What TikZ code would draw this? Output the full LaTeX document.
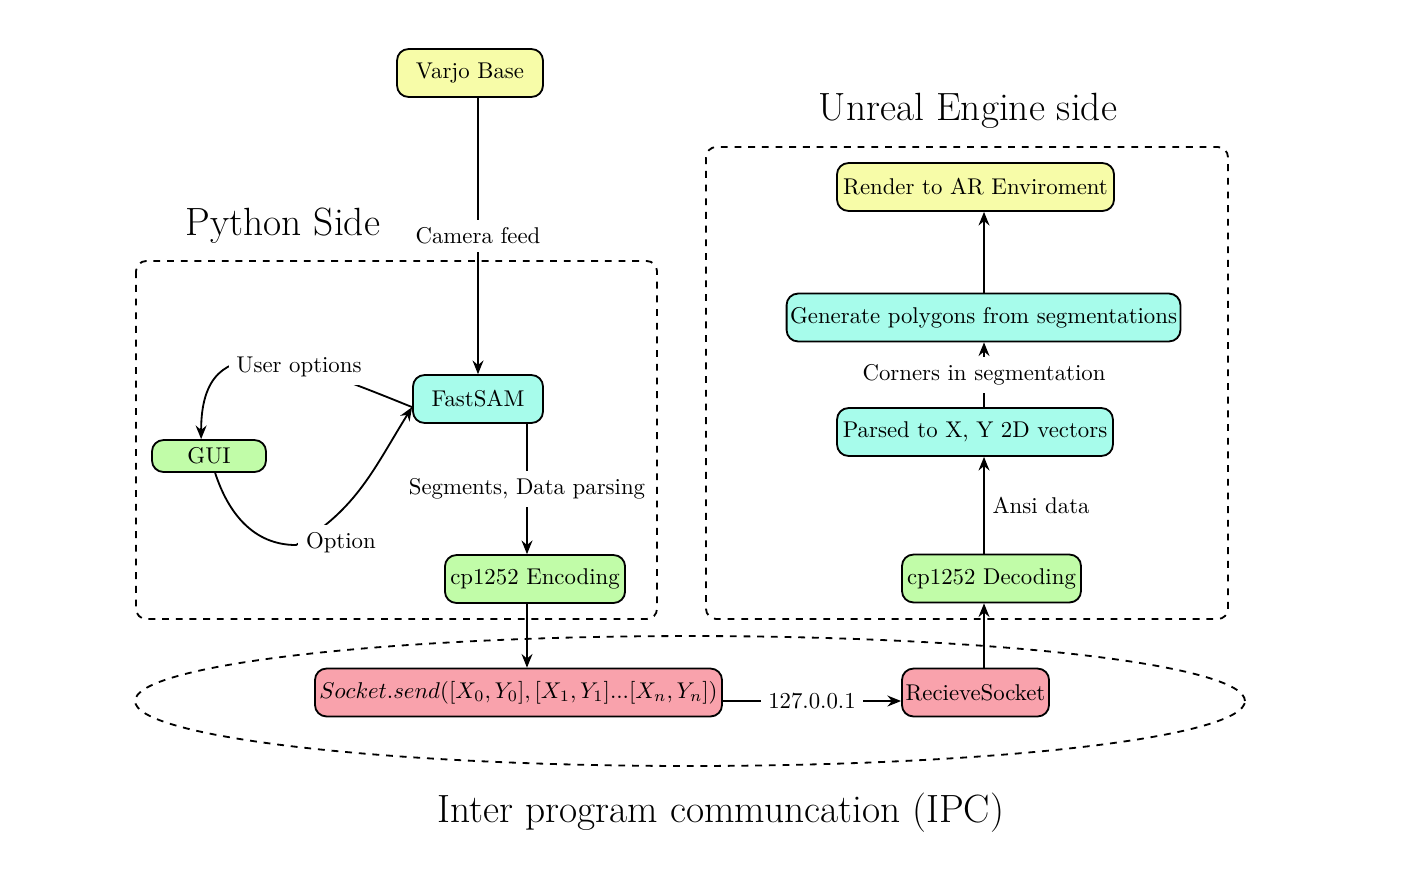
\documentclass[tikz,border=0pt]{standalone}
\usetikzlibrary{arrows.meta,calc}
\definecolor{cyel}{RGB}{247,252,168}
\definecolor{ccyan}{RGB}{167,252,235}
\definecolor{cgreen}{RGB}{193,252,168}
\definecolor{cred}{RGB}{249,162,172}
\begin{document}
\begin{tikzpicture}[x=0.4386pt,y=-0.4386pt,
  >={Stealth[length=6pt,width=4.8pt,inset=2pt]},
  box/.style={draw, thick, rounded corners=5pt, minimum height=21pt, inner xsep=1.5pt, inner ysep=2pt},
  lbl/.style={fill=white},
  conn/.style={thick},
  grp/.style={draw, thick, dashed, rounded corners=4.5pt},
  ttl/.style={font=\LARGE}]
\useasboundingbox (0,0) rectangle (1404,886);

% groups
\draw[grp] (136,261) rectangle (657,619);
\draw[grp] (706,147) rectangle (1228,619);
\draw[dashed, thick] (690,701) ellipse [x radius=243.4pt, y radius=28.5pt];

\node[ttl] (tpy) at (283,226) {Python Side};
\node[ttl] (tue) at (968,111) {Unreal Engine side};
\node[ttl] (tipc) at (721,813) {Inter program communcation (IPC)};

% nodes
\node[box, fill=cyel, minimum width=64pt] (varjo) at (470,73) {Varjo Base};
\node[box, fill=ccyan, minimum width=57pt] (fast) at (478,399) {FastSAM};
\node[box, fill=cgreen, minimum width=50pt, minimum height=14pt] (gui) at (209,456) {GUI};
\node[box, fill=cgreen, minimum width=79pt] (enc) at (535,579) {cp1252 Encoding};
\node[box, fill=cred, minimum width=178.5pt] (sock) at (518.5,692.5) {$Socket.send([X_0,Y_0],[X_1,Y_1]...[X_n,Y_n])$};
\node[box, fill=cred, minimum width=64.5pt] (recv) at (975.5,692.5) {RecieveSocket};
\node[box, fill=cgreen, minimum width=78.5pt] (dec) at (991.5,578.5) {cp1252 Decoding};
\node[box, fill=ccyan, minimum width=121pt] (pars) at (975,432) {Parsed to X, Y 2D vectors};
\node[box, fill=ccyan, minimum width=171.5pt] (gen) at (983.5,317.5) {Generate polygons from segmentations};
\node[box, fill=cyel, minimum width=121.5pt] (rend) at (975.5,187) {Render to AR Enviroment};

% helper coordinates
\coordinate (cx1) at (478,0);
\coordinate (cx2) at (527,0);
\coordinate (cx3) at (984,0);
\coordinate (ipc) at (0,701);
\coordinate (optc) at (296,545);

% connectors
\draw[conn,->] (varjo.south -| cx1) -- node[lbl]{Camera feed} (fast.north);
\draw[conn,->] (fast.south -| cx2) -- node[lbl]{Segments, Data parsing} (enc.north -| cx2);
\draw[conn,->] (enc.south -| cx2) -- (sock.north -| cx2);
\draw[conn,->] (sock.east |- ipc) -- node[lbl]{127.0.0.1} (recv.west |- ipc);
\draw[conn,->] (recv.north -| cx3) -- (dec.south -| cx3);
\draw[conn,->] (dec.north -| cx3) -- node[right]{Ansi data} (pars.south -| cx3);
\draw[conn,->] (pars.north -| cx3) -- node[lbl]{Corners in segmentation} (gen.south -| cx3);
\draw[conn,->] (gen.north -| cx3) -- (rend.south -| cx3);

\draw[conn,->] (fast.187) .. controls (300,362) and (201,320) .. (gui.115);
\node[lbl] (uol) at (299,367) {User options};

\draw[conn,->] (gui.-70) to[out=-72,in=180] (optc) to[out=30,in=238] (fast.187);
\node[lbl, anchor=west] (optl) at (298,543) {Option};
\end{tikzpicture}
\end{document}
